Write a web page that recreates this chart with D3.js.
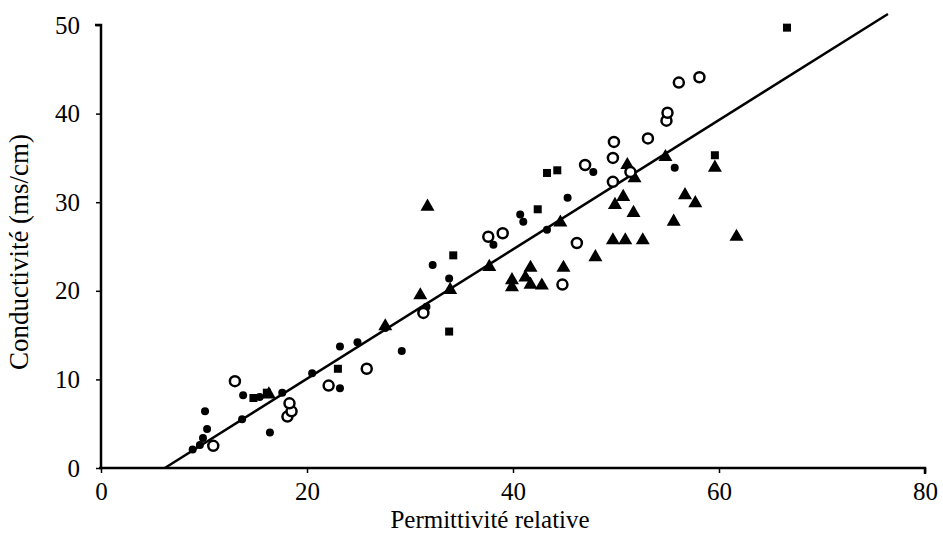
<!DOCTYPE html>
<html>
<head>
<meta charset="utf-8">
<title>Conductivité vs Permittivité</title>
<script src="https://cdn.jsdelivr.net/npm/d3@7"></script>
<style>
  body { margin: 0; background: #fff; }
  text { font-family: "Liberation Serif", "DejaVu Serif", serif; fill: #000; }
</style>
</head>
<body>
<svg id="chart"></svg>
<script>
/*
		 DATA
*/
var filledCircles = [
  [8.9, 2.1], [9.6, 2.6], [9.9, 3.4], [10.3, 4.4], [10.1, 6.4], [13.7, 5.5], [13.8, 8.2],
  [15.4, 8.0], [16.4, 4.0], [17.6, 8.5], [20.5, 10.7], [23.2, 9.0], [23.2, 13.7], [24.9, 14.2],
  [27.6, 15.8], [29.2, 13.2], [31.6, 18.2], [32.2, 22.9], [33.8, 21.4], [38.1, 25.2],
  [40.7, 28.6], [41.0, 27.8], [43.3, 26.9], [45.3, 30.5], [47.8, 33.4], [55.7, 33.9]
];
var filledSquares = [
  [14.8, 7.9], [16.1, 8.5], [23.0, 11.2], [33.8, 15.4], [34.2, 24.0], [42.4, 29.2],
  [43.3, 33.3], [44.3, 33.6], [59.6, 35.3], [66.6, 49.7]
];
var openCircles = [
  [10.9, 2.5], [13.0, 9.8], [18.1, 5.8], [18.5, 6.4], [18.3, 7.3], [22.1, 9.3], [25.8, 11.2],
  [31.3, 17.5], [37.6, 26.1], [39.0, 26.5], [46.2, 25.4], [44.8, 20.7], [47.0, 34.2],
  [49.7, 32.3], [49.7, 35.0], [49.8, 36.8], [51.4, 33.4], [53.1, 37.2], [54.9, 39.2],
  [55.0, 40.1], [56.1, 43.5], [58.1, 44.1]
];
var triangles = [
  [16.3, 8.3], [27.6, 16.0], [31.0, 19.5], [31.7, 29.5], [33.9, 20.1], [37.7, 22.7],
  [39.9, 21.2], [39.9, 20.4], [41.2, 21.5], [41.7, 22.6], [41.7, 20.7], [42.8, 20.6],
  [44.6, 27.7], [44.9, 22.6], [48.0, 23.8], [49.7, 25.7], [49.9, 29.7], [50.7, 30.6],
  [50.9, 25.7], [51.1, 34.2], [51.7, 28.8], [51.8, 32.7], [52.6, 25.7], [54.8, 35.1],
  [55.6, 27.8], [56.7, 30.8], [57.7, 29.9], [59.6, 33.9], [61.7, 26.1]
];

// regression line: y = slope * (x - x0)
var fitSlope = 0.73;
var fitX0 = 6.2;
var fitXEnd = 76.4;

var xTicks = [0, 20, 40, 60, 80];
var yTicks = [0, 10, 20, 30, 40, 50];

/*
		 LAYOUT
*/
var width = 943;
var height = 539;

var x = d3.scaleLinear().domain([0, 80]).range([101, 925]);
var y = d3.scaleLinear().domain([0, 50]).range([468, 25]);

var svg = d3.select("#chart")
    .attr("width", width)
    .attr("height", height);

/*
		 AXES
*/
var xAxis = svg.append("g")
    .attr("transform", "translate(0," + y(0) + ")")
    .attr("font-size", 25)
    .attr("font-family", "Liberation Serif")
    .call(d3.axisBottom(x).tickValues(xTicks).tickSize(5).tickPadding(9));
xAxis.select(".domain").attr("stroke-width", 2.5).attr("d", "M" + (x(0) - 2) + ",0H" + x(80) + "V6");
xAxis.selectAll(".tick line").attr("stroke-width", 1.5);
xAxis.selectAll(".tick text").attr("font-size", 25).style("font-size", "25px");

var yAxis = svg.append("g")
    .attr("transform", "translate(" + x(0) + ",0)")
    .attr("font-size", 25)
    .attr("font-family", "Liberation Serif")
    .call(d3.axisLeft(y).tickValues(yTicks).tickSize(5).tickPadding(16));
yAxis.select(".domain").attr("stroke-width", 2.5).attr("d", "M-6," + y(50) + "H0V" + (y(0) + 1));
yAxis.selectAll(".tick line").attr("stroke-width", 1.5);
yAxis.selectAll(".tick text").attr("font-size", 25).style("font-size", "25px");

svg.append("text")
    .attr("x", 490)
    .attr("y", 528)
    .attr("text-anchor", "middle")
    .style("font-size", "25px")
    .text("Permittivité relative");

svg.append("text")
    .attr("transform", "translate(28," + 252 + ") rotate(-90)")
    .attr("text-anchor", "middle")
    .style("font-size", "27px")
    .text("Conductivité (ms/cm)");

/*
		 FIT LINE
*/
var fitPts = [fitX0, fitXEnd].map(function(v) { return [v, fitSlope * (v - fitX0)]; });
svg.append("path")
    .datum(fitPts)
    .attr("fill", "none")
    .attr("stroke", "#000")
    .attr("stroke-width", 2.5)
    .attr("d", d3.line().x(function(d) { return x(d[0]); }).y(function(d) { return y(d[1]); }));

/*
		 MARKERS
*/
svg.append("g").selectAll("circle.fc")
    .data(filledCircles).enter().append("circle")
    .attr("class", "fc")
    .attr("cx", function(d) { return x(d[0]); })
    .attr("cy", function(d) { return y(d[1]); })
    .attr("r", 4)
    .attr("fill", "#000");

svg.append("g").selectAll("rect")
    .data(filledSquares).enter().append("rect")
    .attr("x", function(d) { return x(d[0]) - 4; })
    .attr("y", function(d) { return y(d[1]) - 4; })
    .attr("width", 8)
    .attr("height", 8)
    .attr("fill", "#000");

svg.append("g").selectAll("path")
    .data(triangles).enter().append("path")
    .attr("transform", function(d) { return "translate(" + x(d[0]) + "," + y(d[1]) + ")"; })
    .attr("d", d3.symbol().type(d3.symbolTriangle).size(85))
    .attr("fill", "#000");

svg.append("g").selectAll("circle.oc")
    .data(openCircles).enter().append("circle")
    .attr("class", "oc")
    .attr("cx", function(d) { return x(d[0]); })
    .attr("cy", function(d) { return y(d[1]); })
    .attr("r", 5)
    .attr("fill", "#fff")
    .attr("stroke", "#000")
    .attr("stroke-width", 2.5);
</script>
</body>
</html>
